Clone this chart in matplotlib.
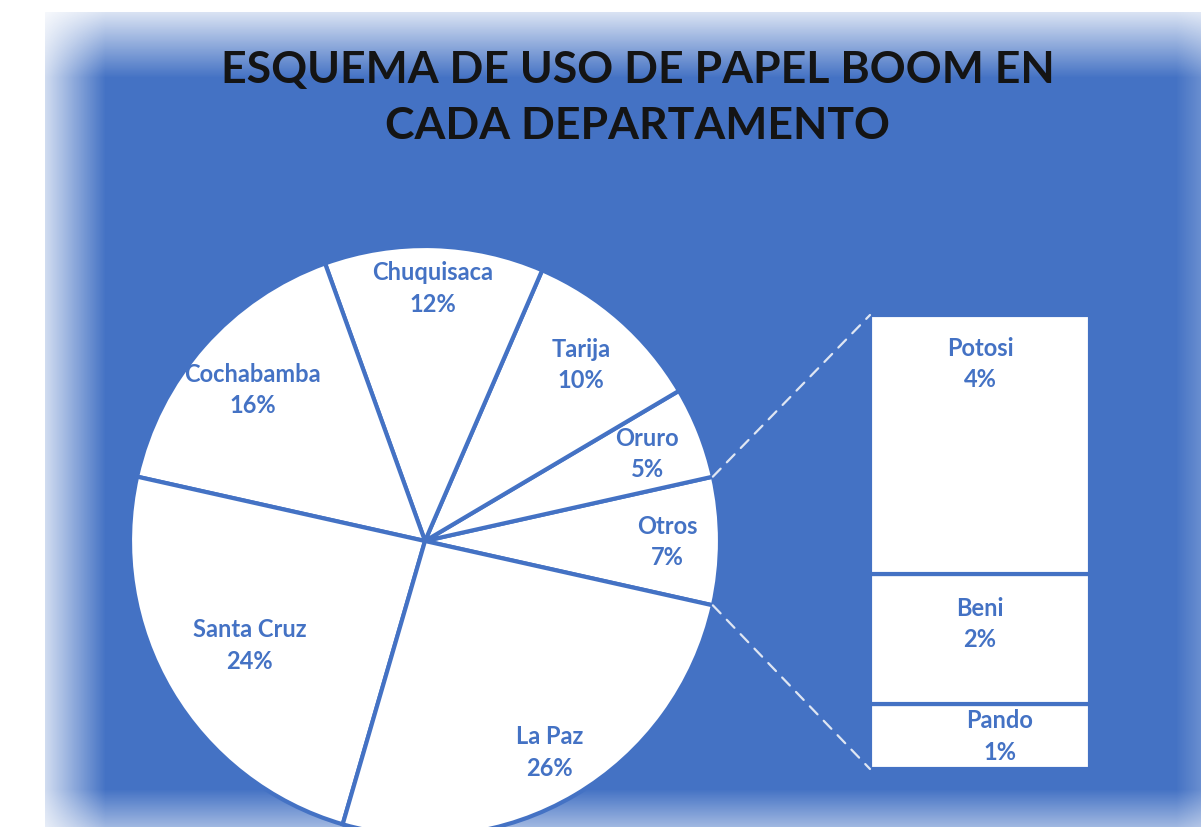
import numpy as np
import matplotlib
matplotlib.use("Agg")
import matplotlib.pyplot as plt
from matplotlib.patches import ConnectionPatch

# pie data (counter-clockwise, starting with the "Otros" group on the right)
pie_names = ["Otros", "Oruro", "Tarija", "Chuquisaca", "Cochabamba", "Santa Cruz", "La Paz"]
pie_values = [7, 5, 10, 12, 16, 24, 26]

# breakdown of "Otros" (bottom to top)
bar_names = ["Pando", "Beni", "Potosi"]
bar_values = [1, 2, 4]

title = "ESQUEMA DE USO DE PAPEL BOOM EN\nCADA DEPARTAMENTO"

BLUE = "#4472C4"
plt.rcParams["font.family"] = ["Lato", "DejaVu Sans"]

W, H = 1201, 828
fig = plt.figure(figsize=(W / 100, H / 100), dpi=100, facecolor="white")

# soft-edged blue panel
bg = fig.add_axes([0, 0, 1, 1])
xx = np.arange(W)[None, :].astype(float)
yy = np.arange(H)[:, None].astype(float)
def fade(d, w, a0):
    t = np.clip(d / w, 0, 1)
    return np.where(d < 0, 0.0, a0 + (1 - a0) * t)
alpha = fade(xx - 45, 60, 0.25) * fade(yy - 13, 65, 0.2) * fade(W - xx, 25, 0.8) * fade(H - yy, 38, 0.5)
rgba = np.zeros((H, W, 4))
rgba[..., :3] = matplotlib.colors.to_rgb(BLUE)
rgba[..., 3] = alpha
bg.imshow(rgba, extent=(0, W, 0, H), origin="upper", aspect="auto")
bg.set_xlim(0, W)
bg.set_ylim(0, H)
bg.axis("off")

# pie in pixel coordinates
ax = fig.add_axes([0, 0, 1, 1])
ax.patch.set_alpha(0)
cx, cy, r = 425, H - 542, 295
start = -pie_values[0] / sum(pie_values) * 360 / 2
wedges, _ = ax.pie(pie_values, startangle=start, center=(cx, cy), radius=r,
                   colors=["white"] * len(pie_values), counterclock=True,
                   wedgeprops=dict(edgecolor=BLUE, linewidth=3))
ax.set_xlim(0, W)
ax.set_ylim(0, H)
ax.set_aspect("auto")
ax.axis("off")

label_dist = [0.82, 0.81, 0.80, 0.86, 0.78, 0.69, 0.83]
total = sum(pie_values)
for w, name, v, d in zip(wedges, pie_names, pie_values, label_dist):
    mid = np.deg2rad((w.theta1 + w.theta2) / 2)
    ax.text(cx + d * r * np.cos(mid), cy + d * r * np.sin(mid),
            f"{name}\n{v / total:.0%}", ha="center", va="center",
            color=BLUE, fontsize=17, fontweight="bold", linespacing=1.45)

ax.text(W * 0.531, H - 98, title, ha="center", va="center", fontsize=32,
        fontweight="bold", color="#141414", linespacing=1.5)

# stacked bar for "Otros"
bax = fig.add_axes([870 / W, (H - 770) / H, 220 / W, 454 / H])
bax.patch.set_alpha(0)
bottoms = np.cumsum([0] + bar_values[:-1])
bars = bax.bar(0, bar_values, bottom=bottoms, width=1, color="white",
               edgecolor=BLUE, linewidth=3)
bax.set_xlim(-0.5, 0.5)
bax.set_ylim(0, sum(bar_values))
bax.axis("off")

bar_pct = [v / total for v in bar_values]
for name, v, p, b in zip(bar_names, bar_values, bar_pct, bottoms):
    if name == "Potosi":
        y, x = b + v - 0.74, 0
    elif name == "Pando":
        y, x = b + v / 2 + 0.02, 0.09
    else:
        y, x = b + v / 2 + 0.25, 0
    bax.text(x, y, f"{name}\n{p:.0%}", ha="center", va="center", color=BLUE,
             fontsize=17, fontweight="bold", linespacing=1.45)

# dashed connectors
w0 = wedges[0]
for ang, ytop in [(w0.theta2, sum(bar_values)), (w0.theta1, 0)]:
    a = np.deg2rad(ang)
    con = ConnectionPatch(xyA=(cx + r * np.cos(a), cy + r * np.sin(a)), coordsA=ax.transData,
                          xyB=(-0.5, ytop), coordsB=bax.transData,
                          color="#dfe6f3", linewidth=1.6, linestyle=(0, (5, 4)))
    fig.add_artist(con)

fig.savefig("out.png", dpi=100, facecolor="white")
